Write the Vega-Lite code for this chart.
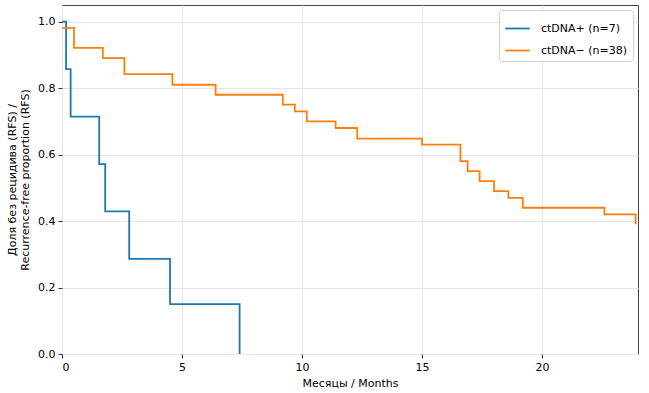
{
  "$schema": "https://vega.github.io/schema/vega-lite/v6.json",
  "width": 576,
  "height": 349,
  "autosize": {"type": "none"},
  "padding": {"left": 62, "top": 5, "right": 11, "bottom": 39},
  "background": "white",
  "config": {
    "font": "DejaVu Sans",
    "view": {"stroke": "#444", "strokeWidth": 1},
    "axis": {
      "domain": false,
      "grid": true,
      "gridColor": "#e6e6e6",
      "gridWidth": 1,
      "tickColor": "#333",
      "tickSize": 4,
      "labelFont": "DejaVu Sans",
      "labelFontSize": 11,
      "labelColor": "#000",
      "labelPadding": 3,
      "titleFont": "DejaVu Sans",
      "titleFontSize": 11,
      "titleFontWeight": "normal",
      "titleColor": "#000"
    }
  },
  "data": {
    "values": [
      {"group": "ctDNA+ (n=7)", "t": 0, "s": 1.0},
      {"group": "ctDNA+ (n=7)", "t": 0.17, "s": 0.857},
      {"group": "ctDNA+ (n=7)", "t": 0.36, "s": 0.714},
      {"group": "ctDNA+ (n=7)", "t": 1.55, "s": 0.571},
      {"group": "ctDNA+ (n=7)", "t": 1.8, "s": 0.429},
      {"group": "ctDNA+ (n=7)", "t": 2.8, "s": 0.286},
      {"group": "ctDNA+ (n=7)", "t": 4.5, "s": 0.15},
      {"group": "ctDNA+ (n=7)", "t": 7.4, "s": 0.0},
      {"group": "ctDNA− (n=38)", "t": 0, "s": 0.981},
      {"group": "ctDNA− (n=38)", "t": 0.5, "s": 0.921},
      {"group": "ctDNA− (n=38)", "t": 1.7, "s": 0.89},
      {"group": "ctDNA− (n=38)", "t": 2.6, "s": 0.842},
      {"group": "ctDNA− (n=38)", "t": 4.6, "s": 0.81},
      {"group": "ctDNA− (n=38)", "t": 6.4, "s": 0.78},
      {"group": "ctDNA− (n=38)", "t": 9.2, "s": 0.75},
      {"group": "ctDNA− (n=38)", "t": 9.7, "s": 0.73},
      {"group": "ctDNA− (n=38)", "t": 10.2, "s": 0.70},
      {"group": "ctDNA− (n=38)", "t": 11.4, "s": 0.68},
      {"group": "ctDNA− (n=38)", "t": 12.3, "s": 0.648},
      {"group": "ctDNA− (n=38)", "t": 15.0, "s": 0.63},
      {"group": "ctDNA− (n=38)", "t": 16.6, "s": 0.58},
      {"group": "ctDNA− (n=38)", "t": 16.9, "s": 0.55},
      {"group": "ctDNA− (n=38)", "t": 17.4, "s": 0.52},
      {"group": "ctDNA− (n=38)", "t": 18.0, "s": 0.49},
      {"group": "ctDNA− (n=38)", "t": 18.6, "s": 0.47},
      {"group": "ctDNA− (n=38)", "t": 19.2, "s": 0.44},
      {"group": "ctDNA− (n=38)", "t": 22.6, "s": 0.42},
      {"group": "ctDNA− (n=38)", "t": 23.9, "s": 0.39}
    ]
  },
  "mark": {"type": "line", "interpolate": "step-after", "strokeWidth": 1.8},
  "encoding": {
    "x": {
      "field": "t",
      "type": "quantitative",
      "scale": {"domain": [0, 24], "nice": false, "zero": false},
      "axis": {"values": [0, 5, 10, 15, 20], "title": "Месяцы / Months", "titlePadding": 5}
    },
    "y": {
      "field": "s",
      "type": "quantitative",
      "scale": {"domain": [0, 1.05], "nice": false},
      "axis": {
        "values": [0, 0.2, 0.4, 0.6, 0.8, 1.0],
        "format": ".1f",
        "title": ["Доля без рецидива (RFS) /", "Recurrence-free proportion (RFS)"],
        "titlePadding": 7
      }
    },
    "color": {
      "field": "group",
      "type": "nominal",
      "scale": {"domain": ["ctDNA+ (n=7)", "ctDNA− (n=38)"], "range": ["#1f77b4", "#ff7f0e"]},
      "legend": {
        "title": null,
        "orient": "top-right",
        "offset": 5,
        "symbolType": "stroke",
        "symbolSize": 600,
        "symbolStrokeWidth": 1.8,
        "labelFontSize": 11,
        "labelFont": "DejaVu Sans",
        "labelColor": "#000",
        "labelOffset": 10,
        "strokeColor": "#d0d0d0",
        "fillColor": "white",
        "cornerRadius": 3,
        "padding": 5,
        "rowPadding": 3
      }
    }
  }
}
